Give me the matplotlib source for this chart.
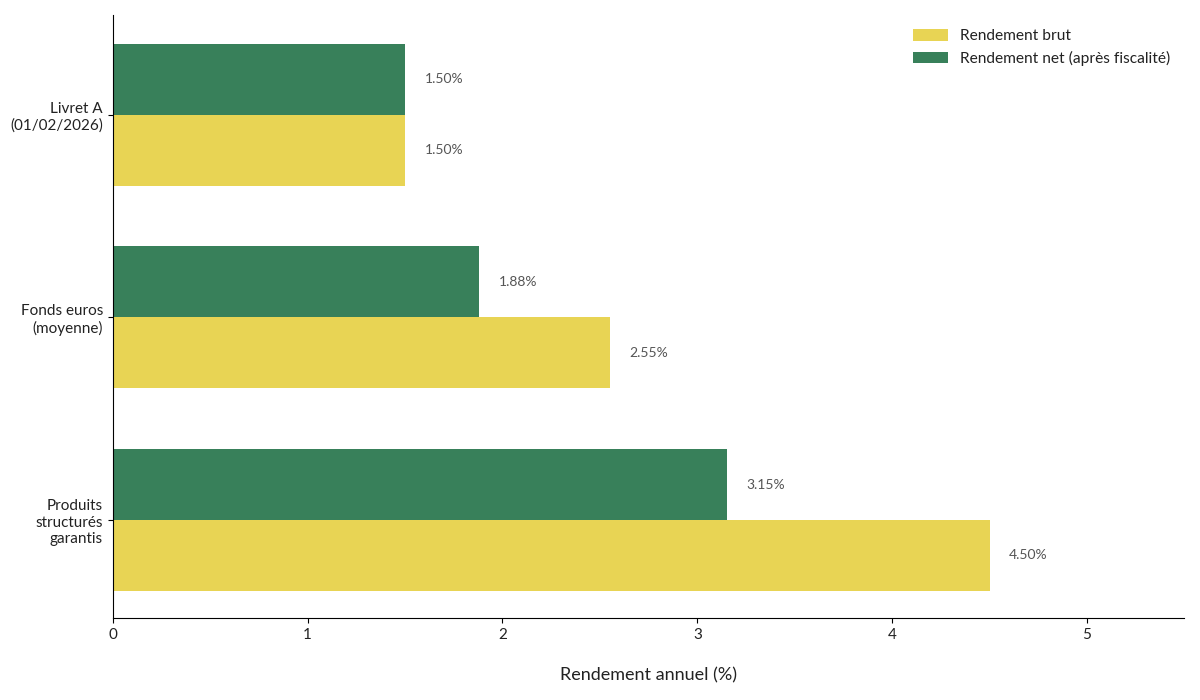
import numpy as np
import matplotlib
matplotlib.use('Agg')
import matplotlib.pyplot as plt

plt.rcParams['font.family'] = ['Lato', 'DejaVu Sans']

# Données
categories = ['Livret A\n(01/02/2026)', 'Fonds euros\n(moyenne)', 'Produits\nstructurés\ngarantis']
brut = [1.50, 2.55, 4.50]
net = [1.50, 1.88, 3.15]

COULEUR_BRUT = '#E8D454'
COULEUR_NET = '#38805A'

fig, ax = plt.subplots(figsize=(12, 7), dpi=100)
fig.subplots_adjust(left=0.094, right=0.987, top=0.979, bottom=0.117)

y = np.arange(len(categories))
h = 0.35
barres_brut = ax.barh(y + h / 2, brut, height=h, color=COULEUR_BRUT, label='Rendement brut')
barres_net = ax.barh(y - h / 2, net, height=h, color=COULEUR_NET, label='Rendement net (après fiscalité)')

for barres, valeurs in [(barres_brut, brut), (barres_net, net)]:
    for b, v in zip(barres, valeurs):
        ax.text(v + 0.1, b.get_y() + b.get_height() / 2, f'{v:.2f}%',
                va='center', ha='left', fontsize=10, color='#555555')

ax.set_yticks(y)
ax.set_yticklabels(categories, fontsize=11, color='#222222')
ax.set_ylim(2.484, -0.494)
ax.set_xlim(0, 5.5)
ax.set_xticks([0, 1, 2, 3, 4, 5])
ax.tick_params(axis='x', labelsize=11, labelcolor='#222222')
ax.set_xlabel('Rendement annuel (%)', fontsize=13, labelpad=18, color='#222222')

for s in ['top', 'right']:
    ax.spines[s].set_visible(False)

# légende : brut en premier
handles, labels = ax.get_legend_handles_labels()
leg = ax.legend(handles, labels, loc='upper right', frameon=False, fontsize=11.2,
                handlelength=2.2, handleheight=0.8, bbox_to_anchor=(1.0, 1.0))
for t in leg.get_texts():
    t.set_color('#222222')

plt.savefig('out.png')
